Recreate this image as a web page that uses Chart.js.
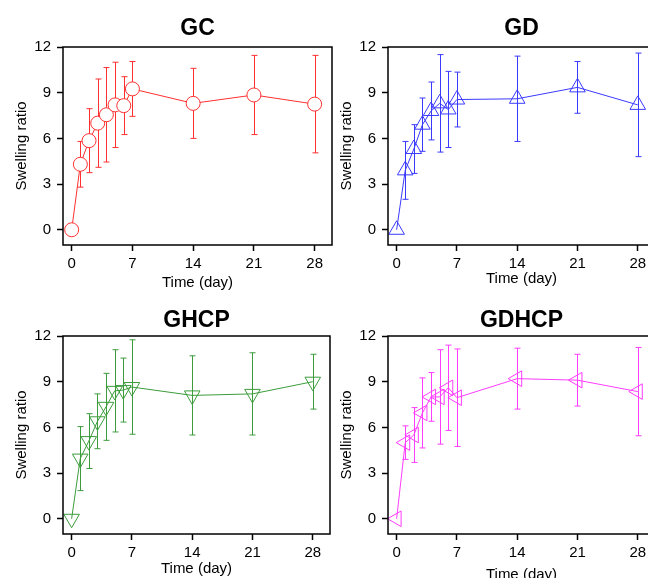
<!DOCTYPE html>
<html>
<head>
<meta charset="utf-8">
<script src="https://cdn.jsdelivr.net/npm/chart.js@4.4.1/dist/chart.umd.min.js"></script>
<style>
  body { margin: 0; width: 648px; height: 578px; overflow: hidden; background: #fff; position: relative; }
  .panel { position: absolute; width: 340px; height: 300px; }
</style>
</head>
<body>
<div class="panel" style="left:0;top:0"><canvas id="gc" width="340" height="300"></canvas></div>
<div class="panel" style="left:325px;top:0"><canvas id="gd" width="340" height="300"></canvas></div>
<div class="panel" style="left:0;top:289px"><canvas id="ghcp" width="340" height="300"></canvas></div>
<div class="panel" style="left:325px;top:289px"><canvas id="gdhcp" width="340" height="300"></canvas></div>
<script>
// Dados (média e desvio padrão)
const days = [0, 1, 2, 3, 4, 5, 6, 7, 14, 21, 28];
const xTicks = [0, 7, 14, 21, 28];
const yTicks = [0, 3, 6, 9, 12];

const gcMean = [0, 4.3, 5.85, 7.0, 7.55, 8.2, 8.15, 9.25, 8.3, 8.85, 8.25];
const gcSd   = [0, 1.5, 2.1, 2.9, 3.1, 2.8, 1.9, 1.8, 2.3, 2.6, 3.2];

const gdMean = [0, 3.9, 5.3, 6.9, 7.8, 8.3, 7.9, 8.55, 8.6, 9.35, 8.2];
const gdSd   = [0, 1.9, 1.6, 1.75, 1.9, 3.2, 2.5, 1.8, 2.8, 1.7, 3.4];

const ghcpMean = [0, 3.95, 5.1, 6.4, 7.35, 8.4, 8.45, 8.65, 8.1, 8.2, 9.0];
const ghcpSd   = [0, 2.1, 1.8, 1.8, 2.2, 2.7, 2.1, 3.1, 2.6, 2.7, 1.8];

const gdhcpMean = [0, 5.0, 5.5, 6.95, 8.0, 8.0, 8.6, 7.95, 9.2, 9.1, 8.35];
const gdhcpSd   = [0, 1.1, 1.8, 2.3, 1.6, 3.1, 2.8, 3.2, 2.0, 1.7, 2.9];

const FONT = "'Liberation Sans', Arial, sans-serif";

// Barras de erro desenhadas com as escalas do próprio gráfico
const errorBarsPlugin = {
    id: 'errorBars',
    beforeDatasetsDraw(chart) {
        const ctx = chart.ctx;
        const xs = chart.scales.x;
        const ys = chart.scales.y;
        chart.data.datasets.forEach(ds => {
            if (!ds.sd) return;
            ctx.save();
            ctx.strokeStyle = ds.borderColor;
            ctx.lineWidth = 1;
            ds.data.forEach((p, i) => {
                const sd = ds.sd[i];
                if (!sd) return;
                const x = Math.round(xs.getPixelForValue(p.x)) + 0.5;
                const yTop = ys.getPixelForValue(p.y + sd);
                const yBot = ys.getPixelForValue(p.y - sd);
                ctx.beginPath();
                ctx.moveTo(x, yTop);
                ctx.lineTo(x, yBot);
                ctx.moveTo(x - 3, yTop);
                ctx.lineTo(x + 3, yTop);
                ctx.moveTo(x - 3, yBot);
                ctx.lineTo(x + 3, yBot);
                ctx.stroke();
            });
            ctx.restore();
        });
    }
};

// Moldura completa em volta da área do gráfico
const framePlugin = {
    id: 'frame',
    afterDraw(chart) {
        const {ctx, chartArea: a} = chart;
        ctx.save();
        ctx.strokeStyle = '#000';
        ctx.lineWidth = 1.5;
        ctx.strokeRect(a.left, a.top, a.right - a.left, a.bottom - a.top);
        ctx.restore();
    }
};

function makePanel(id, title, mean, sd, color, style, opts) {
    const ctx = document.getElementById(id);
    if (!ctx) return;

    const data = {
        datasets: [{
            label: title,
            data: days.map((d, i) => ({x: d, y: mean[i]})),
            sd: sd,
            borderColor: color,
            borderWidth: 1,
            tension: 0,
            pointStyle: style.shape,
            pointRotation: style.rotation || 0,
            pointRadius: style.radius,
            pointBorderWidth: 1,
            pointBorderColor: color,
            pointBackgroundColor: style.fill || 'rgba(0,0,0,0)'
        }]
    };

    const config = {
        type: 'line',
        data: data,
        plugins: [errorBarsPlugin, framePlugin],
        options: {
            responsive: false,
            animation: false,
            layout: { padding: { left: 0, right: 7, top: 0, bottom: 0 } },
            plugins: {
                legend: { display: false },
                tooltip: { enabled: false },
                title: {
                    display: true,
                    text: title,
                    fullSize: false,
                    color: '#000',
                    font: { family: FONT, size: 23, weight: 'bold' },
                    padding: { top: opts.titleTop, bottom: 47 - opts.titleTop - 27.6 }
                }
            },
            scales: {
                x: {
                    type: 'linear',
                    min: -1,
                    max: 30,
                    afterBuildTicks: s => { s.ticks = xTicks.map(v => ({value: v})); },
                    afterFit: s => { s.height = 55; },
                    border: { display: false },
                    grid: { display: true, drawOnChartArea: false, drawTicks: true, tickLength: 6, tickWidth: 1.5, tickColor: '#000' },
                    ticks: { autoSkip: false, maxRotation: 0, padding: 4, color: '#000', font: { family: FONT, size: 15 } },
                    title: { display: true, text: 'Time (day)', color: '#000', font: { family: FONT, size: 15 }, padding: { top: 0, bottom: opts.xTitleBottom } }
                },
                y: {
                    min: -1,
                    max: 12,
                    afterBuildTicks: s => { s.ticks = yTicks.map(v => ({value: v})); },
                    afterFit: s => { s.width = 63; },
                    border: { display: false },
                    grid: { display: true, drawOnChartArea: false, drawTicks: true, tickLength: 6, tickWidth: 1.5, tickColor: '#000' },
                    ticks: { autoSkip: false, padding: 6, color: '#000', font: { family: FONT, size: 15 } },
                    title: { display: true, text: 'Swelling ratio', color: '#000', font: { family: FONT, size: 15 }, padding: { top: 13, bottom: 0 } }
                }
            }
        }
    };

    new Chart(ctx, config);
}

makePanel('gc', 'GC', gcMean, gcSd, '#ff3030',
    { shape: 'circle', radius: 7, fill: '#fff' }, { titleTop: 15, xTitleBottom: 8 });
makePanel('gd', 'GD', gdMean, gdSd, '#3a3aff',
    { shape: 'triangle', radius: 9 }, { titleTop: 15, xTitleBottom: 12 });
makePanel('ghcp', 'GHCP', ghcpMean, ghcpSd, '#3c9c3c',
    { shape: 'triangle', radius: 9, rotation: 180 }, { titleTop: 18, xTitleBottom: 11 });
makePanel('gdhcp', 'GDHCP', gdhcpMean, gdhcpSd, '#ff3cff',
    { shape: 'triangle', radius: 9, rotation: -90 }, { titleTop: 18, xTitleBottom: 5 });
</script>
</body>
</html>
